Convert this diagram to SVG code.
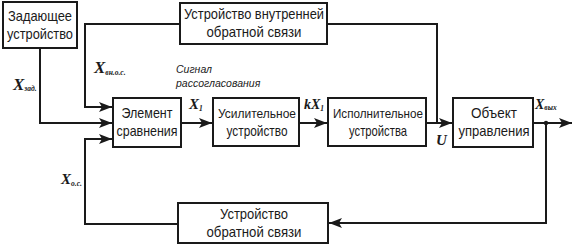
<svg xmlns="http://www.w3.org/2000/svg" width="573" height="246" viewBox="0 0 573 246">
<defs>
<style>
.box{fill:#fff;stroke:#1a1a1a;stroke-width:2}
.ln{fill:none;stroke:#1a1a1a;stroke-width:2}
.t{font-family:"Liberation Sans",Arial,sans-serif;font-size:14.5px;fill:#1a1a1a;text-anchor:middle}
.v{font-family:"Liberation Serif","Times New Roman",serif;font-style:italic;font-weight:bold;fill:#1a1a1a}
.s{font-size:7.5px}
.c{font-family:"Liberation Sans",Arial,sans-serif;font-style:italic;font-size:10.5px;fill:#1a1a1a}
</style>
<marker id="ar" viewBox="0 0 13 10" refX="13" refY="5" markerWidth="13" markerHeight="10" markerUnits="userSpaceOnUse" orient="auto">
<path d="M0,0 L13,5 L0,10 L3,5 Z" fill="#1a1a1a"/>
</marker>
</defs>
<rect width="573" height="246" fill="#fff"/>
<g id="connectors">
<path class="ln" d="M40,48 V123 H112" marker-end="url(#ar)"/>
<path class="ln" d="M180,24 H85 V107 H112" marker-end="url(#ar)"/>
<path class="ln" d="M178,224 H85 V139 H112" marker-end="url(#ar)"/>
<path class="ln" d="M181,123 H212" marker-end="url(#ar)"/>
<path class="ln" d="M299,123 H327" marker-end="url(#ar)"/>
<path class="ln" d="M327,24 H437 V123"/>
<path class="ln" d="M426,123 H452" marker-end="url(#ar)"/>
<path class="ln" d="M533,123 H572" marker-end="url(#ar)"/>
<path class="ln" d="M546,123 V223 H329" marker-end="url(#ar)"/>
<circle cx="546" cy="123" r="2.2" fill="#1a1a1a"/>
</g>
<g id="zadayushchee">
<rect class="box" x="3" y="2" width="74" height="46"/>
<text class="t" x="40" y="21" textLength="64" lengthAdjust="spacingAndGlyphs">Задающее</text>
<text class="t" x="40" y="39" textLength="66" lengthAdjust="spacingAndGlyphs">устройство</text>
</g>
<g id="vnutr">
<rect class="box" x="180" y="3" width="147" height="41"/>
<text class="t" x="254" y="19" textLength="140" lengthAdjust="spacingAndGlyphs">Устройство внутренней</text>
<text class="t" x="254" y="37" textLength="95" lengthAdjust="spacingAndGlyphs">обратной связи</text>
</g>
<g id="element">
<rect class="box" x="113" y="98" width="68" height="49"/>
<text class="t" x="147" y="118" textLength="51" lengthAdjust="spacingAndGlyphs">Элемент</text>
<text class="t" x="147" y="136" textLength="61" lengthAdjust="spacingAndGlyphs">сравнения</text>
</g>
<g id="usilitel">
<rect class="box" x="213" y="98" width="86" height="48"/>
<text class="t" x="257" y="118" font-size="13" style="font-size:13px" textLength="78" lengthAdjust="spacingAndGlyphs">Усилительное</text>
<text class="t" x="257" y="136" textLength="61" lengthAdjust="spacingAndGlyphs">устройство</text>
</g>
<g id="ispolnit">
<rect class="box" x="328" y="98" width="98" height="48"/>
<text class="t" x="378" y="118" style="font-size:13px" textLength="90" lengthAdjust="spacingAndGlyphs">Исполнительное</text>
<text class="t" x="378" y="136" textLength="58" lengthAdjust="spacingAndGlyphs">устройства</text>
</g>
<g id="obekt">
<rect class="box" x="453" y="98" width="80" height="49"/>
<text class="t" x="494" y="118" textLength="46" lengthAdjust="spacingAndGlyphs">Объект</text>
<text class="t" x="494" y="136" textLength="71" lengthAdjust="spacingAndGlyphs">управления</text>
</g>
<g id="obratnaya">
<rect class="box" x="178" y="203" width="150" height="40"/>
<text class="t" x="254" y="219" textLength="68" lengthAdjust="spacingAndGlyphs">Устройство</text>
<text class="t" x="254" y="237" textLength="95" lengthAdjust="spacingAndGlyphs">обратной связи</text>
</g>
<g id="labels">
<text class="v" x="13" y="90" font-size="17">X<tspan class="s" dy="1">зад.</tspan></text>
<text class="v" x="94" y="73" font-size="17">X<tspan class="s" dy="2">вн.о.с.</tspan></text>
<text class="c" x="176" y="73">Сигнал</text>
<text class="c" x="176" y="87">рассогласования</text>
<text class="v" x="189" y="109" font-size="15">X<tspan class="s" dy="2">1</tspan></text>
<text class="v" x="304" y="109" font-size="14">kX<tspan class="s" dy="2">1</tspan></text>
<text class="v" x="436" y="145" font-size="15">U</text>
<text class="v" x="535" y="109" font-size="14">X<tspan class="s" dy="1">вых</tspan></text>
<text class="v" x="61" y="184" font-size="15">X<tspan class="s" dy="2">о.с.</tspan></text>
</g>
</svg>
